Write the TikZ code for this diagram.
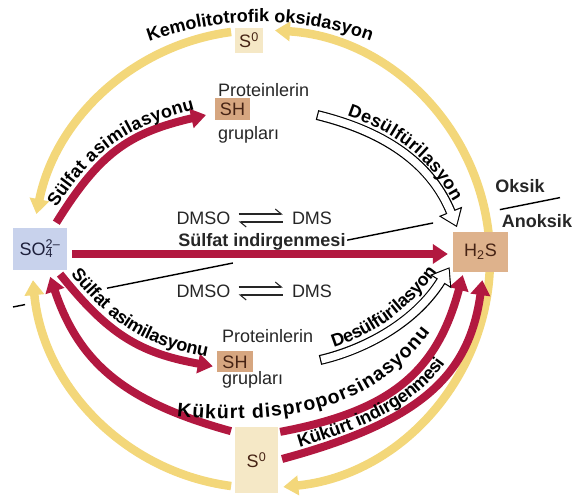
\documentclass[tikz,border=0pt]{standalone}
\usepackage{fontspec}
\setmainfont{Liberation Sans}
\usepackage{xcolor}
\usepackage{tikz}
\usetikzlibrary{arrows.meta}
\usetikzlibrary{calc}
\usetikzlibrary{decorations.text}

\definecolor{sulfred}{RGB}{178,24,64}
\definecolor{ringyellow}{RGB}{243,215,122}
\definecolor{sulfatebox}{RGB}{200,210,236}
\definecolor{sulfatetext}{RGB}{30,32,60}
\definecolor{sulfidebox}{RGB}{222,178,140}
\definecolor{thiolbox}{RGB}{214,166,128}
\definecolor{sulfurbox}{RGB}{245,232,198}
\definecolor{boxtext}{RGB}{70,35,20}

\newcommand{\curvedfont}{\bfseries\fontsize{18}{18}\selectfont}

\begin{document}
\begin{tikzpicture}[x=1pt,y=1pt,
    every node/.style={font=\fontsize{18}{20}\selectfont, inner sep=0pt, text=black!85},
    chembox/.style={inner sep=0pt},
    ringarrow/.style={ringyellow, line width=8.5pt, -{Triangle[length=15pt,width=19pt]}},
    redarrow/.style={sulfred, line width=8pt, -{Triangle[length=15pt,width=19pt]}},
    desulfout/.style={black, line width=10pt, -{Triangle[length=17pt,width=24pt]}},
    desulfin/.style={white, line width=7.6pt, shorten <=1.2pt, -{Triangle[length=14pt,width=19.5pt]}},
    eqarrow/.style={black!85, line width=1.1pt, -{Straight Barb[harpoon,length=6pt,width=10pt]}},
    boundary/.style={black, line width=1.4pt}]

  \useasboundingbox (0,0) rectangle (574,498);

  % yellow ring
  \coordinate (Ring) at (261,239);
  \draw[ringarrow] ([shift={(3:229)}]Ring) arc[start angle=3, end angle=86.5, radius=229pt];
  \draw[ringarrow] ([shift={(97.5:229)}]Ring) arc[start angle=97.5, end angle=168.7, radius=229pt];
  \draw[ringarrow] ([shift={(-2:229)}]Ring) arc[start angle=-2, end angle=-84.4, radius=229pt];
  \draw[ringarrow] ([shift={(-97.5:229)}]Ring) arc[start angle=-97.5, end angle=-174.7, radius=229pt];

  % compounds
  \node[chembox, fill=sulfatebox, minimum width=54pt, minimum height=42pt, text=sulfatetext] (so4) at (40,249) {SO\rlap{\textsubscript{4}}\textsuperscript{2\textendash}};
  \node[chembox, fill=sulfidebox, minimum width=55pt, minimum height=40pt, text=boxtext] (h2s) at (480.5,246) {H\textsubscript{2}S};
  \node[chembox, fill=sulfurbox, minimum width=28pt, minimum height=25pt, text=boxtext] (s0t) at (249,457.5) {S\textsuperscript{0}};
  \node[chembox, fill=sulfurbox, minimum width=43pt, minimum height=66pt, text=boxtext] (s0b) at (256.5,38) {S\textsuperscript{0}};
  \node[chembox, fill=thiolbox, minimum width=35pt, minimum height=22pt, text=boxtext] (sh1) at (232.5,389) {SH};
  \node[chembox, fill=thiolbox, minimum width=36pt, minimum height=21pt, text=boxtext] (sh2) at (235,136) {SH};

  \node[anchor=base west] (prot1) at (218,401) {Proteinlerin};
  \node[anchor=base west] (grup1) at (218,358) {grupları};
  \node[anchor=base west] (prot2) at (222,155) {Proteinlerin};
  \node[anchor=base west] (grup2) at (222,113) {grupları};

  \node (dmso1) at (203.5,280) {DMSO};
  \node (dms1) at (312,280) {DMS};
  \node (dmso2) at (203.5,207) {DMSO};
  \node (dms2) at (312,207) {DMS};
  \draw[eqarrow, shorten <=8pt, shorten >=9pt] ([yshift=4pt]dmso1.east) -- ([yshift=4pt]dms1.west);
  \draw[eqarrow, shorten <=9pt, shorten >=8pt] ([yshift=-4pt]dms1.west) -- ([yshift=-4pt]dmso1.east);
  \draw[eqarrow, shorten <=8pt, shorten >=9pt] ([yshift=4pt]dmso2.east) -- ([yshift=4pt]dms2.west);
  \draw[eqarrow, shorten <=9pt, shorten >=8pt] ([yshift=-4pt]dms2.west) -- ([yshift=-4pt]dmso2.east);

  % oxic / anoxic boundary
  \coordinate (OxL) at (13,191);
  \coordinate (OxR) at (560,300.4);
  \foreach \a/\b in {0/0.022, 0.172/0.402, 0.611/0.768, 0.890/1}
    \draw[boundary] ($(OxL)!\a!(OxR)$) -- ($(OxL)!\b!(OxR)$);
  \node[font=\curvedfont, anchor=base] (oksik) at (520,305) {Oksik};
  \node[font=\curvedfont, anchor=base] (anoksik) at (537,270) {Anoksik};

  % red arrows
  \draw[redarrow, shorten <=5pt, shorten >=5pt] ([yshift=-5pt]so4.east) -- ([yshift=-2pt]h2s.west);
  \node[font=\curvedfont, anchor=base] (indirg) at (262,251) {Sülfat indirgenmesi};

  \draw[redarrow, shorten <=6pt, shorten >=9pt] (so4) .. controls (99,344) and (128,365) .. ([yshift=-4pt]sh1.west);
  \path[decorate, decoration={text along path, text={|\curvedfont|Sülfat asimilasyonu}, text align=center, raise=8pt}]
    (so4) .. controls (99,344) and (128,365) .. ([yshift=-4pt]sh1.west);

  \draw[redarrow, shorten <=5pt, shorten >=4pt] (so4) .. controls (108,164) and (139,145) .. ([yshift=-5pt]sh2.west);
  \path[decorate, decoration={text along path, text={|\curvedfont|Sülfat asimilasyonu}, text align=center, raise=8pt}]
    (so4) .. controls (108,164) and (139,145) .. ([yshift=-5pt]sh2.west);

  \draw[redarrow, shorten <=4pt, shorten >=7pt] (s0b.128) .. controls (125,96) and (79,135) .. ([xshift=8pt]so4.south);
  \draw[redarrow, shorten <=2pt, shorten >=3pt] (s0b.52) .. controls (391,87) and (437,126) .. ([xshift=-17pt]h2s.south);
  \draw[redarrow, shorten <=4pt, shorten >=8pt] (s0b.east) .. controls (419,76) and (469,121) .. ([xshift=3pt]h2s.south);
  \path[decorate, decoration={text along path, text={|\bfseries\fontsize{19.5}{19.5}\selectfont|Kükürt disproporsinasyonu}, text align=fit to path}]
    (177,82) .. controls (302,70) and (377.6,96) .. (430,166);
  \path[decorate, decoration={text along path, text={|\curvedfont|Kükürt indirgenmesi}, text align={left indent=24pt}, raise=6pt}]
    (s0b.east) .. controls (419,76) and (469,121) .. ([xshift=3pt]h2s.south);

  % desulfurylation
  \coordinate (desulfA) at (317,383);
  \coordinate (desulfB) at (320,138);
  \draw[desulfout, shorten >=5pt] (desulfA) .. controls (390,365) and (432.5,331) .. ([xshift=6pt]h2s.north west);
  \draw[desulfin, shorten >=6.8pt] (desulfA) .. controls (390,365) and (432.5,331) .. ([xshift=6pt]h2s.north west);
  \path[decorate, decoration={text along path, text={|\curvedfont|Desülfürilasyon}, text align=center, raise=8pt}]
    (desulfA) .. controls (390,365) and (432.5,331) .. ([xshift=6pt]h2s.north west);
  \draw[desulfout, shorten >=6pt] (desulfB) .. controls (359,147) and (413,172) .. (h2s.200);
  \draw[desulfin, shorten >=7.8pt] (desulfB) .. controls (359,147) and (413,172) .. (h2s.200);
  \path[decorate, decoration={text along path, text={|\curvedfont|Desülfürilasyon}, text align=center, raise=8pt}]
    (desulfB) .. controls (359,147) and (413,172) .. (h2s.200);

  % top label
  \coordinate (KemoCenter) at (260,147);
  \path[decorate, decoration={text along path, text={|\curvedfont|Kemolitotrofik oksidasyon}, text align=center}]
    ([shift={(112:329)}]KemoCenter) arc[start angle=112, end angle=68, radius=329pt];

\end{tikzpicture}
\end{document}
